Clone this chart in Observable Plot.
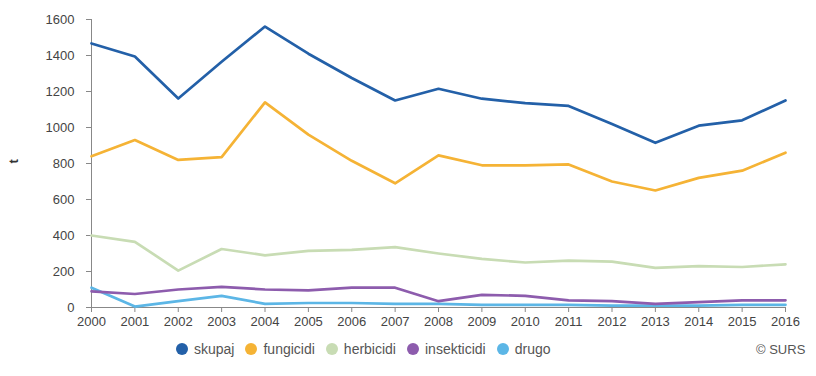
<!DOCTYPE html>
<html>
<head>
<meta charset="utf-8">
<script src="https://cdn.jsdelivr.net/npm/d3@7"></script>
<script src="https://cdn.jsdelivr.net/npm/@observablehq/plot@0.6"></script>
<style>
  html, body { margin: 0; padding: 0; background: #fff; }
  #wrap { position: relative; width: 816px; height: 376px; font-family: "Liberation Sans", Arial, sans-serif; }
  #legend { position: absolute; left: 176px; top: 341px; display: flex; align-items: center; font-size: 14px; color: #555; }
  #legend .item { display: flex; align-items: center; margin-right: 11px; }
  #legend .dot { width: 12px; height: 12px; border-radius: 50%; margin-right: 6px; }
  #credit { position: absolute; left: 756px; top: 342px; font-size: 13px; color: #555; }
</style>
</head>
<body>
<div id="wrap">
  <div id="chart"></div>
  <div id="legend"></div>
  <div id="credit">© SURS</div>
</div>
<script>
const years = [2000, 2001, 2002, 2003, 2004, 2005, 2006, 2007, 2008, 2009, 2010, 2011, 2012, 2013, 2014, 2015, 2016];
const seriesNames = ["skupaj", "fungicidi", "herbicidi", "insekticidi", "drugo"];
const seriesColors = ["#2360a8", "#f5b335", "#c8dcb4", "#8d5cad", "#5cb6e6"];
const skupaj      = [1467, 1394, 1161, 1365, 1561, 1410, 1275, 1150, 1215, 1160, 1135, 1120, 1020, 915, 1010, 1040, 1150];
const fungicidi   = [840, 930, 820, 835, 1140, 960, 815, 690, 845, 790, 790, 795, 700, 650, 720, 760, 860];
const herbicidi   = [400, 365, 205, 325, 290, 315, 320, 335, 300, 270, 250, 260, 255, 220, 230, 225, 240];
const insekticidi = [90, 75, 100, 115, 100, 95, 110, 110, 35, 70, 65, 40, 35, 20, 30, 40, 40];
const drugo       = [110, 5, 35, 65, 20, 25, 25, 20, 20, 15, 15, 15, 10, 10, 10, 15, 15];
const yTicks = [0, 200, 400, 600, 800, 1000, 1200, 1400, 1600];

const valuesBySeries = [skupaj, fungicidi, herbicidi, insekticidi, drugo];
const rows = [];
seriesNames.forEach((name, i) => {
  years.forEach((year, j) => rows.push({series: name, year, value: valuesBySeries[i][j]}));
});
// draw back-to-front so the total line sits on top
const drawOrder = [...seriesNames].reverse();

const chart = Plot.plot({
  width: 816,
  height: 335,
  marginLeft: 91,
  marginRight: 31,
  marginTop: 19,
  marginBottom: 28,
  style: {fontFamily: "'Liberation Sans', Arial, sans-serif", fontSize: "13px", color: "#555", background: "#fff"},
  x: {type: "linear", domain: [2000, 2016], label: null},
  y: {domain: [0, 1600], label: null},
  color: {domain: seriesNames, range: seriesColors},
  marks: [
    Plot.ruleY([0], {stroke: "#888", strokeWidth: 1}),
    Plot.ruleX([2000], {stroke: "#888", strokeWidth: 1}),
    Plot.axisX({ticks: years, tickFormat: d => String(d), tickSize: 5, tickPadding: 4, stroke: "#888", fill: "#444", label: null}),
    Plot.axisY({ticks: yTicks, tickFormat: d => String(d), tickSize: 5, tickPadding: 12, stroke: "#888", fill: "#444", label: null}),
    ...drawOrder.map(name => Plot.line(rows.filter(d => d.series === name), {
      x: "year", y: "value", stroke: "series", strokeWidth: 2.7, strokeLinejoin: "round"
    })),
    Plot.text(["t"], {frameAnchor: "left", dx: -78, rotate: -90, fontSize: 13, fill: "#333", fontWeight: "bold"})
  ]
});
document.getElementById("chart").appendChild(chart);

const legend = document.getElementById("legend");
seriesNames.forEach((name, i) => {
  const item = document.createElement("div");
  item.className = "item";
  const dot = document.createElement("span");
  dot.className = "dot";
  dot.style.background = seriesColors[i];
  const label = document.createElement("span");
  label.textContent = name;
  item.appendChild(dot);
  item.appendChild(label);
  legend.appendChild(item);
});
</script>
</body>
</html>
